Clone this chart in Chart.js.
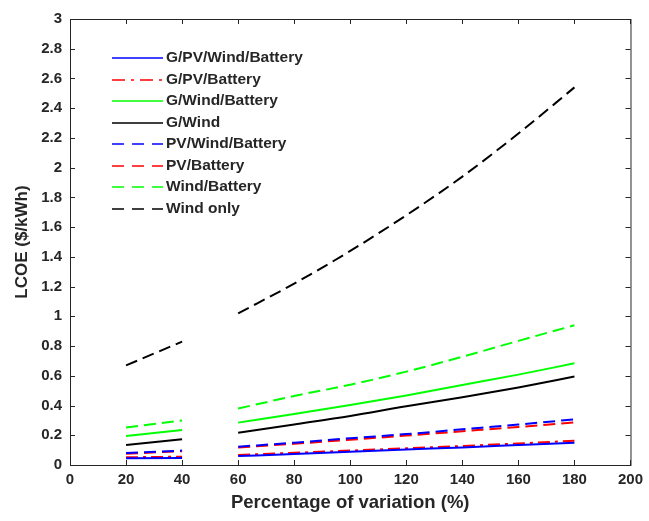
<!DOCTYPE html>
<html>
<head>
<meta charset="utf-8">
<script src="https://cdn.jsdelivr.net/npm/chart.js@4"></script>
<style>
  html, body { margin: 0; padding: 0; background: #fff; }
  #wrap { width: 649px; height: 521px; }
</style>
</head>
<body>
<div id="wrap"><canvas id="lcoeChart" width="649" height="521"></canvas></div>
<script>
// x positions: two groups with a gap between 40 and 60
const xLow = [20, 40];
const xHigh = [60, 80, 100, 120, 140, 160, 180];

// LCOE values ($/kWh)
const gPvWindBattLow = [0.045, 0.047];
const gPvWindBattHigh = [0.060, 0.074, 0.089, 0.104, 0.118, 0.134, 0.150];
const gPvBattLow = [0.052, 0.056];
const gPvBattHigh = [0.067, 0.082, 0.097, 0.112, 0.128, 0.145, 0.163];
const gWindBattLow = [0.195, 0.235];
const gWindBattHigh = [0.285, 0.343, 0.403, 0.468, 0.538, 0.608, 0.684];
const gWindLow = [0.135, 0.173];
const gWindHigh = [0.217, 0.273, 0.330, 0.395, 0.455, 0.522, 0.595];
const pvWindBattLow = [0.080, 0.097];
const pvWindBattHigh = [0.123, 0.150, 0.180, 0.208, 0.240, 0.272, 0.307];
const pvBattLow = [0.076, 0.093];
const pvBattHigh = [0.118, 0.143, 0.170, 0.198, 0.227, 0.256, 0.287];
const windBattLow = [0.253, 0.300];
const windBattHigh = [0.380, 0.464, 0.540, 0.628, 0.728, 0.835, 0.940];
const windOnlyLow = [0.67, 0.83];
const windOnlyHigh = [1.02, 1.22, 1.44, 1.68, 1.94, 2.23, 2.54];

// tick values
const xTickValues = [0, 20, 40, 60, 80, 100, 120, 140, 160, 180, 200];
const yTickValues = [0, 0.2, 0.4, 0.6, 0.8, 1, 1.2, 1.4, 1.6, 1.8, 2, 2.2, 2.4, 2.6, 2.8, 3];

const AXIS_COLOR = '#262626';
const FONT = '"Liberation Sans", Arial, sans-serif';
const DASH = [12, 6];
const DASH_DOT = [12, 5, 3, 5];

// join the two groups with a null so the line breaks between 40 and 60
function points(low, high) {
  const pts = xLow.map((x, i) => ({ x: x, y: low[i] }));
  pts.push({ x: 50, y: null });
  xHigh.forEach((x, i) => pts.push({ x: x, y: high[i] }));
  return pts;
}

function series(label, low, high, color, dash) {
  return {
    label: label,
    data: points(low, high),
    borderColor: color,
    backgroundColor: color,
    borderWidth: 2,
    borderDash: dash,
    pointRadius: 0,
    spanGaps: false,
    cubicInterpolationMode: 'monotone',
    fill: false
  };
}

const datasets = [
  series('G/PV/Wind/Battery', gPvWindBattLow, gPvWindBattHigh, '#0000ff', []),
  series('G/PV/Battery', gPvBattLow, gPvBattHigh, '#ff0000', DASH_DOT),
  series('G/Wind/Battery', gWindBattLow, gWindBattHigh, '#00ff00', []),
  series('G/Wind', gWindLow, gWindHigh, '#000000', []),
  series('PV/Wind/Battery', pvWindBattLow, pvWindBattHigh, '#0000ff', DASH),
  series('PV/Battery', pvBattLow, pvBattHigh, '#ff0000', DASH),
  series('Wind/Battery', windBattLow, windBattHigh, '#00ff00', DASH),
  series('Wind only', windOnlyLow, windOnlyHigh, '#000000', DASH)
];

// box around the plot with inward ticks on all four sides
const framePlugin = {
  id: 'frame',
  afterDatasetsDraw(chart) {
    const { ctx, chartArea: a, scales } = chart;
    const len = 5;
    ctx.save();
    ctx.strokeStyle = AXIS_COLOR;
    ctx.lineWidth = 1;
    ctx.strokeRect(a.left + 0.5, a.top + 0.5, a.right - a.left, a.bottom - a.top);
    ctx.beginPath();
    scales.x.ticks.forEach(t => {
      const px = Math.round(scales.x.getPixelForValue(t.value)) + 0.5;
      ctx.moveTo(px, a.bottom); ctx.lineTo(px, a.bottom - len);
      ctx.moveTo(px, a.top); ctx.lineTo(px, a.top + len);
    });
    scales.y.ticks.forEach(t => {
      const py = Math.round(scales.y.getPixelForValue(t.value)) + 0.5;
      ctx.moveTo(a.left, py); ctx.lineTo(a.left + len, py);
      ctx.moveTo(a.right, py); ctx.lineTo(a.right - len, py);
    });
    ctx.stroke();
    ctx.restore();
  }
};

// legend drawn inside the plot, top-left, without a box
const legendPlugin = {
  id: 'insideLegend',
  afterDraw(chart) {
    const { ctx } = chart;
    const x0 = 112, x1 = 163, tx = 166, y0 = 58, step = 21.5;
    ctx.save();
    ctx.font = 'bold 15.5px ' + FONT;
    ctx.textBaseline = 'middle';
    chart.data.datasets.forEach((ds, i) => {
      const y = Math.round(y0 + i * step);
      ctx.strokeStyle = ds.borderColor;
      ctx.lineWidth = 1.5;
      ctx.setLineDash(ds.borderDash.length === 4 ? [13, 6, 3, 6] : (ds.borderDash.length ? [12, 8] : []));
      ctx.beginPath();
      ctx.moveTo(x0, y);
      ctx.lineTo(x1, y);
      ctx.stroke();
      ctx.setLineDash([]);
      ctx.fillStyle = AXIS_COLOR;
      ctx.fillText(ds.label, tx, y);
    });
    ctx.restore();
  }
};

const ctx = document.getElementById('lcoeChart').getContext('2d');
const chart = new Chart(ctx, {
  type: 'line',
  data: { datasets: datasets },
  options: {
    responsive: false,
    animation: false,
    layout: { padding: { left: 0, right: 14, top: 19, bottom: 0 } },
    scales: {
      x: {
        type: 'linear',
        min: 0,
        max: 200,
        afterBuildTicks: s => { s.ticks = xTickValues.map(v => ({ value: v })); },
        afterFit: s => { s.height = 56; },
        grid: { display: false, drawTicks: false },
        border: { display: false },
        ticks: { color: AXIS_COLOR, padding: 6, font: { family: FONT, size: 15, weight: 'bold' } },
        title: {
          display: true,
          text: 'Percentage of variation (%)',
          color: AXIS_COLOR,
          padding: { top: 1, bottom: 7 },
          font: { family: FONT, size: 18.5, weight: 'bold' }
        }
      },
      y: {
        type: 'linear',
        min: 0,
        max: 3,
        afterBuildTicks: s => { s.ticks = yTickValues.map(v => ({ value: v })); },
        afterFit: s => { s.width = 70; },
        grid: { display: false, drawTicks: false },
        border: { display: false },
        ticks: {
          color: AXIS_COLOR,
          padding: 8,
          font: { family: FONT, size: 15, weight: 'bold' },
          callback: v => String(Number(v.toFixed(1)))
        },
        title: {
          display: true,
          text: 'LCOE ($/kWh)',
          color: AXIS_COLOR,
          padding: { top: 12, bottom: 0 },
          font: { family: FONT, size: 17, weight: 'bold' }
        }
      }
    },
    plugins: {
      legend: { display: false },
      tooltip: { enabled: false }
    }
  },
  plugins: [framePlugin, legendPlugin]
});
</script>
</body>
</html>
